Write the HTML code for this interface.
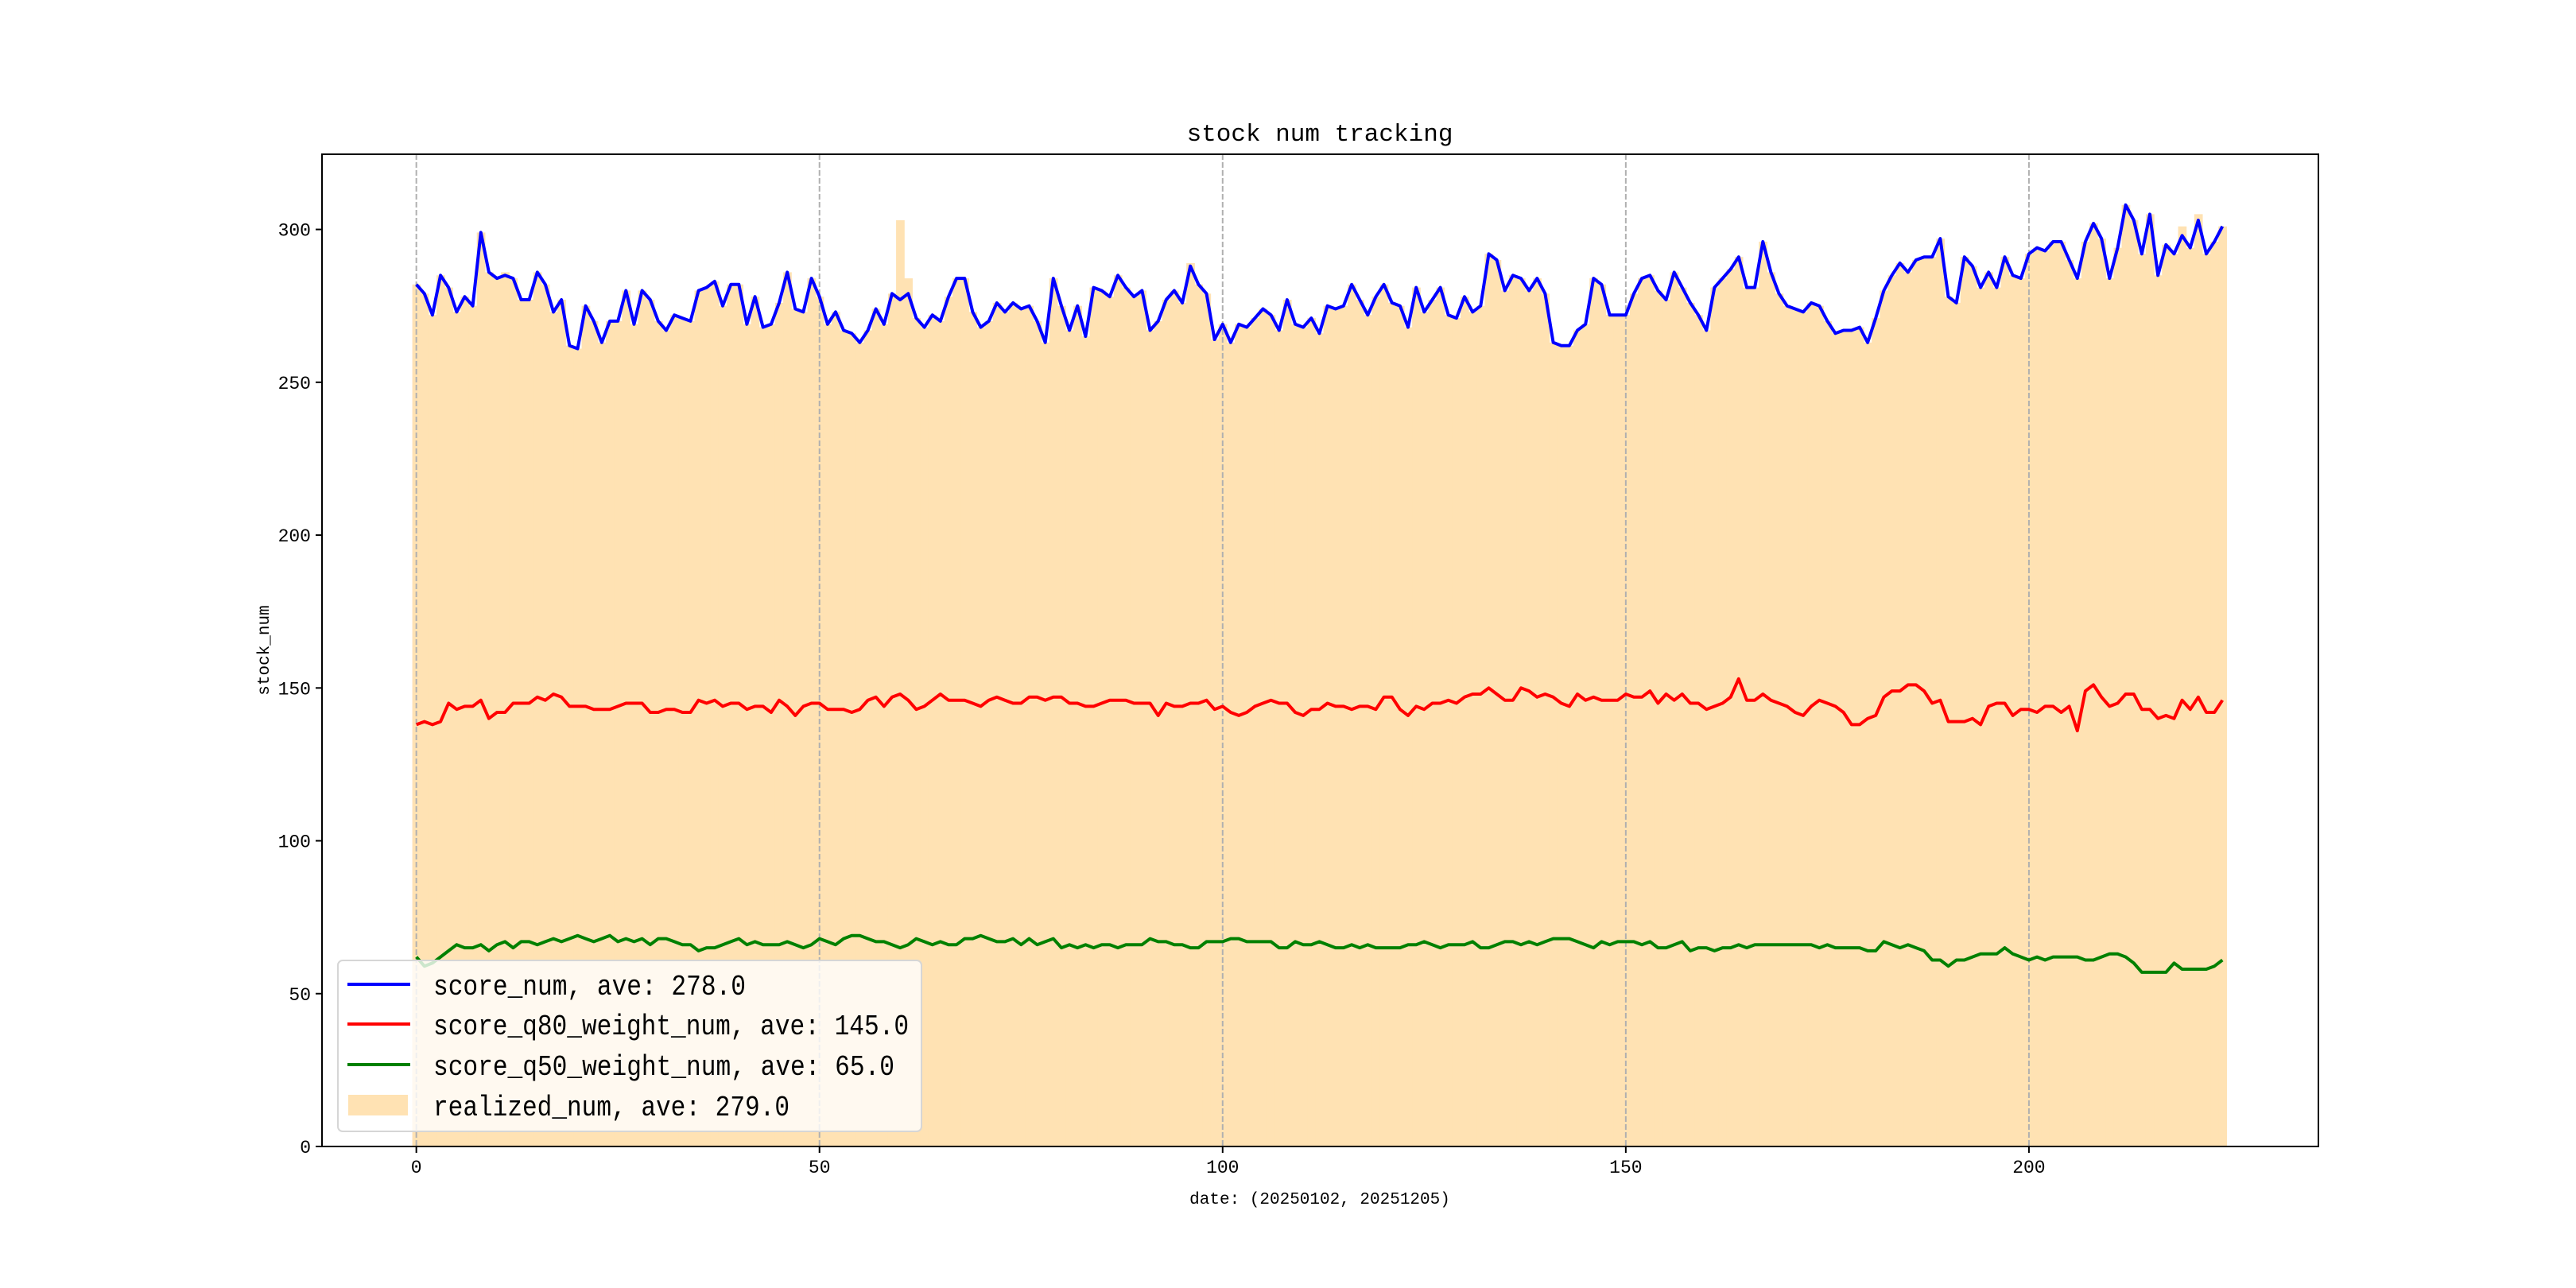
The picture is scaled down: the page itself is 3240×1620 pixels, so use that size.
<!DOCTYPE html>
<html><head><meta charset="utf-8"><style>
body{margin:0;background:#fff}
svg{display:block}
text{font-family:"Liberation Mono","Noto Sans CJK SC",monospace;fill:#000}
</style></head><body>
<svg id="chart" width="3240" height="1620" viewBox="0 0 3240 1620" xmlns="http://www.w3.org/2000/svg">
<rect width="3240" height="1620" fill="#fff"/>
<g id="bars"></g>
<g id="grid"></g>
<g id="lines"></g>
<rect x="405" y="194" width="2511" height="1248" fill="none" stroke="#000" stroke-width="2"/>
<g id="xticks"></g>
<g id="yticks"></g>
<text x="1660" y="177" font-size="31" text-anchor="middle">stock num tracking</text>
<text x="1660" y="1514" font-size="21" text-anchor="middle">date: (20250102, 20251205)</text>
<text x="0" y="0" font-size="21" text-anchor="middle" transform="translate(338,818) rotate(-90)">stock_num</text>
<g>
<rect x="425" y="1208" width="734" height="215" rx="6" fill="#fff" fill-opacity="0.8" stroke="#d6d6d6" stroke-width="2"/>
<line x1="437" y1="1238" x2="516" y2="1238" stroke="#0000ff" stroke-width="4"/>
<text x="545" y="1251" font-size="36" textLength="393" lengthAdjust="spacingAndGlyphs">score_num, ave: 278.0</text>
<line x1="437" y1="1288" x2="516" y2="1288" stroke="#ff0000" stroke-width="4"/>
<text x="545" y="1301" font-size="36" textLength="598" lengthAdjust="spacingAndGlyphs">score_q80_weight_num, ave: 145.0</text>
<line x1="437" y1="1339" x2="516" y2="1339" stroke="#008000" stroke-width="4"/>
<text x="545" y="1352" font-size="36" textLength="580" lengthAdjust="spacingAndGlyphs">score_q50_weight_num, ave: 65.0</text>
<rect x="438" y="1377" width="75" height="26" fill="#ffe2b3"/>
<text x="545" y="1403" font-size="36" textLength="448" lengthAdjust="spacingAndGlyphs">realized_num, ave: 279.0</text>
</g>
</svg>
<script>
const scoreNum=[282,279,272,285,281,273,278,275,299,286,284,285,284,277,277,286,282,273,277,262,261,275,270,263,270,270,280,269,280,277,270,267,272,271,270,280,281,283,275,282,282,269,278,268,269,276,286,274,273,284,278,269,273,267,266,263,267,274,269,279,277,279,271,268,272,270,278,284,284,273,268,270,276,273,276,274,275,270,263,284,275,267,275,265,281,280,278,285,281,278,280,267,270,277,280,276,288,282,279,264,269,263,269,268,271,274,272,267,277,269,268,271,266,275,274,275,282,277,272,278,282,276,275,268,281,273,277,281,272,271,278,273,275,292,290,280,285,284,280,284,279,263,262,262,267,269,284,282,272,272,272,279,284,285,280,277,286,281,276,272,267,281,284,287,291,281,281,296,286,279,275,274,273,276,275,270,266,267,267,268,263,271,280,285,289,286,290,291,291,297,278,276,291,288,281,286,281,291,285,284,292,294,293,296,296,290,284,296,302,297,284,294,308,303,292,305,285,295,292,298,294,303,292,296,301];
const q80Num=[138,139,138,139,145,143,144,144,146,140,142,142,145,145,145,147,146,148,147,144,144,144,143,143,143,144,145,145,145,142,142,143,143,142,142,146,145,146,144,145,145,143,144,144,142,146,144,141,144,145,145,143,143,143,142,143,146,147,144,147,148,146,143,144,146,148,146,146,146,145,144,146,147,146,145,145,147,147,146,147,147,145,145,144,144,145,146,146,146,145,145,145,141,145,144,144,145,145,146,143,144,142,141,142,144,145,146,145,145,142,141,143,143,145,144,144,143,144,144,143,147,147,143,141,144,143,145,145,146,145,147,148,148,150,148,146,146,150,149,147,148,147,145,144,148,146,147,146,146,146,148,147,147,149,145,148,146,148,145,145,143,144,145,147,153,146,146,148,146,145,144,142,141,144,146,145,144,142,138,138,140,141,147,149,149,151,151,149,145,146,139,139,139,140,138,144,145,145,141,143,143,142,144,144,142,144,136,149,151,147,144,145,148,148,143,143,140,141,140,146,143,147,142,142,146];
const q50Num=[62,59,60,62,64,66,65,65,66,64,66,67,65,67,67,66,67,68,67,68,69,68,67,68,69,67,68,67,68,66,68,68,67,66,66,64,65,65,66,67,68,66,67,66,66,66,67,66,65,66,68,67,66,68,69,69,68,67,67,66,65,66,68,67,66,67,66,66,68,68,69,68,67,67,68,66,68,66,67,68,65,66,65,66,65,66,66,65,66,66,66,68,67,67,66,66,65,65,67,67,67,68,68,67,67,67,67,65,65,67,66,66,67,66,65,65,66,65,66,65,65,65,65,66,66,67,66,65,66,66,66,67,65,65,66,67,67,66,67,66,67,68,68,68,67,66,65,67,66,67,67,67,66,67,65,65,66,67,64,65,65,64,65,65,66,65,66,66,66,66,66,66,66,66,65,66,65,65,65,65,64,64,67,66,65,66,65,64,61,61,59,61,61,62,63,63,63,65,63,62,61,62,61,62,62,62,62,61,61,62,63,63,62,60,57,57,57,57,60,58,58,58,58,59,61];
const realizedNum=scoreNum.map(v=>v);
realizedNum[60]=303;realizedNum[61]=284;realizedNum[11]=286;realizedNum[96]=289;realizedNum[221]=305;realizedNum[219]=301;
const xTicks=[0,50,100,150,200];
const yTicks=[0,50,100,150,200,250,300];
const NS="http://www.w3.org/2000/svg";
const L=405,R=2916,T=194,B=1442,XMIN=-11.7,XMAX=235.9,YMIN=0,YMAX=324.6;
const xs=v=>L+(v-XMIN)/(XMAX-XMIN)*(R-L);
const ys=v=>B-(v-YMIN)/(YMAX-YMIN)*(B-T);
function mk(tag,attrs,parent){const e=document.createElementNS(NS,tag);for(const k in attrs)e.setAttribute(k,attrs[k]);parent.appendChild(e);return e;}
const bars=document.getElementById('bars');
realizedNum.forEach((v,i)=>{
  const r=mk('rect',{x:xs(i-0.5),y:ys(v),width:xs(i+0.5)-xs(i-0.5)+0.6,height:ys(0)-ys(v),fill:'#ffe2b3'},bars);
  
  
});
const grid=document.getElementById('grid'),xt=document.getElementById('xticks'),yt=document.getElementById('yticks');
xTicks.forEach(t=>{
  const g=mk('line',{x1:xs(t),x2:xs(t),y1:T,y2:B,stroke:'#b0b0b0','stroke-width':2,'stroke-dasharray':'7,3'},grid);
  
  
  const tk=mk('line',{x1:xs(t),x2:xs(t),y1:B,y2:B+8,stroke:'#000','stroke-width':2},xt);
  
  
  const tx=mk('text',{x:xs(t),y:B+33,'font-size':23,'text-anchor':'middle'},xt);
  tx.textContent=t;
  
  
});
yTicks.forEach(t=>{
  const tk=mk('line',{x1:L-8,x2:L,y1:ys(t),y2:ys(t),stroke:'#000','stroke-width':2},yt);
  
  
  const tx=mk('text',{x:L-14,y:ys(t)+8,'font-size':23,'text-anchor':'end'},yt);
  tx.textContent=t;
  
  
});
const lines=document.getElementById('lines');
[[scoreNum,'#0000ff','score-num-line'],[q80Num,'#ff0000','q80-weight-line'],[q50Num,'#008000','q50-weight-line']].forEach(([arr,c,n])=>{
  const p=mk('polyline',{points:arr.map((v,i)=>xs(i).toFixed(1)+','+ys(v).toFixed(1)).join(' '),fill:'none',stroke:c,'stroke-width':4,'stroke-linejoin':'round'},lines);
  
  
});
</script>
</body></html>
